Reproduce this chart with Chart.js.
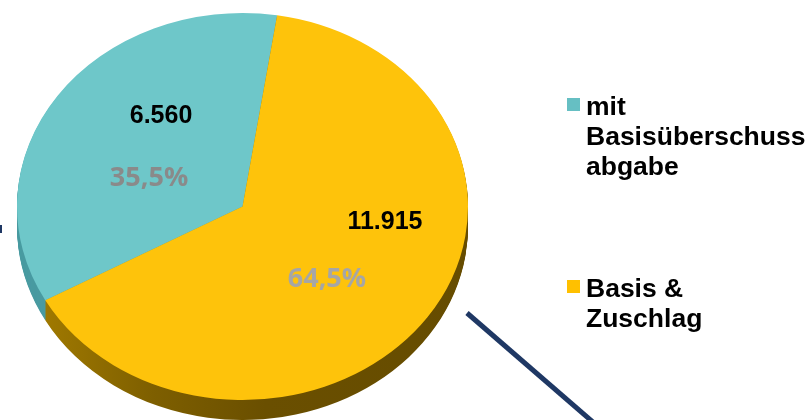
<!DOCTYPE html>
<html>
<head>
<meta charset="utf-8">
<script src="https://cdn.jsdelivr.net/npm/chart.js@4/dist/chart.umd.min.js"></script>
<style>
    html, body { margin: 0; padding: 0; background: #ffffff; }
    #wrap { position: relative; width: 811px; height: 420px; overflow: hidden; }
    #pieChart { position: absolute; left: 0; top: 0; }
    .legend-item { position: absolute; left: 567px; font: bold 26.5px "Liberation Sans", Arial, sans-serif; line-height: 30px; color: #000; }
    .legend-item .box { position: absolute; left: 0; top: 7px; width: 13px; height: 13px; }
    .legend-item .txt { position: absolute; left: 19px; top: 0; white-space: nowrap; }
</style>
</head>
<body>
<div id="wrap">
    <canvas id="pieChart" width="811" height="420"></canvas>
</div>
<script>
// =============================================
//              DATA
// =============================================
const categories = [['mit', 'Basisüberschuss', 'abgabe'], ['Basis &', 'Zuschlag']];
const values = [6560, 11915];
const sliceColors = ['#6ec7c9', '#fec30b'];
const legendColors = ['#66bfc3', '#ffc000'];

// =============================================
//              LAYOUT / STYLE
// =============================================
const DEPTH = 20;                         // thickness of the 3D rim
const legendTops = [91, 273];
// nudges of the value / percent labels from the slice anchor [dx, dy]
const valueShift = [[11, -35], [50, -40]];
const pctShift = [[-1, 27], [-8, 17]];
const pctColors = ['#8a8a8a', '#a6a6a6'];

// German number formatting: 11915 -> "11.915", 35.51 -> "35,5%"
function fmtThousands(v) {
    return String(v).replace(/\B(?=(\d{3})+(?!\d))/g, '.');
}
function fmtPct(v, total) {
    return (v / total * 100).toFixed(1).replace('.', ',') + '%';
}

// ellipse geometry taken from the chart area
function ellipseOf(chart) {
    const a = chart.chartArea;
    return {
        cx: (a.left + a.right) / 2,
        cy: (a.top + a.bottom) / 2,
        rx: (a.right - a.left) / 2,
        ry: (a.bottom - a.top) / 2
    };
}

// =============================================
//              3D TILT PLUGIN
// =============================================
const tiltPlugin = {
    id: 'tilt',
    beforeDatasetsDraw(chart) {
        const ctx = chart.ctx;
        const meta = chart.getDatasetMeta(0);
        const e = ellipseOf(chart);

        // rim: stacked offset copies of each sector, darker colours
        const yellowSide = ctx.createLinearGradient(e.cx - e.rx, 0, e.cx + e.rx, 0);
        yellowSide.addColorStop(0, '#a87f00');
        yellowSide.addColorStop(0.3, '#7e5f00');
        yellowSide.addColorStop(0.55, '#6a4f00');
        yellowSide.addColorStop(1, '#664c00');
        const sideColors = ['#4a9ba1', yellowSide];

        for (let d = DEPTH; d >= 1; d--) {
            meta.data.forEach((arc, i) => {
                const p = arc.getProps(['startAngle', 'endAngle'], true);
                ctx.beginPath();
                ctx.moveTo(e.cx, e.cy + d);
                ctx.ellipse(e.cx, e.cy + d, e.rx, e.ry, 0, p.startAngle, p.endAngle);
                ctx.closePath();
                ctx.fillStyle = sideColors[i];
                ctx.fill();
            });
        }

        // squash the pie face into the ellipse
        const first = meta.data[0].getProps(['x', 'y', 'outerRadius'], true);
        ctx.save();
        ctx.translate(e.cx, e.cy);
        ctx.scale(e.rx / first.outerRadius, e.ry / first.outerRadius);
        ctx.translate(-first.x, -first.y);
    },
    afterDatasetsDraw(chart) {
        const ctx = chart.ctx;
        ctx.restore();

        const meta = chart.getDatasetMeta(0);
        const e = ellipseOf(chart);
        const total = values.reduce((s, v) => s + v, 0);

        ctx.save();
        ctx.textAlign = 'center';
        ctx.textBaseline = 'middle';
        meta.data.forEach((arc, i) => {
            const p = arc.getProps(['startAngle', 'endAngle'], true);
            const mid = (p.startAngle + p.endAngle) / 2;
            const ax = e.cx + Math.cos(mid) * e.rx * 0.5;
            const ay = e.cy + Math.sin(mid) * e.ry * 0.5;

            ctx.font = 'bold 25px "Liberation Sans", Arial, sans-serif';
            ctx.fillStyle = '#000000';
            ctx.fillText(fmtThousands(values[i]), ax + valueShift[i][0], ay + valueShift[i][1]);

            ctx.font = 'bold 27px "Open Sans", sans-serif';
            ctx.fillStyle = pctColors[i];
            ctx.fillText(fmtPct(values[i], total), ax + pctShift[i][0], ay + pctShift[i][1]);
        });

        // connector line leaving the slide on the right, and tick on the left edge
        ctx.strokeStyle = '#1f3864';
        ctx.lineWidth = 5;
        ctx.beginPath();
        ctx.moveTo(467, 313);
        ctx.lineTo(594, 423);
        ctx.stroke();
        ctx.lineWidth = 2;
        ctx.beginPath();
        ctx.moveTo(1, 225);
        ctx.lineTo(1, 233);
        ctx.stroke();
        ctx.restore();
    }
};

// =============================================
//              CHART
// =============================================
new Chart(document.getElementById('pieChart'), {
    type: 'pie',
    data: {
        labels: categories,
        datasets: [{
            data: values,
            backgroundColor: sliceColors,
            borderWidth: 0,
            clip: false
        }]
    },
    options: {
        responsive: false,
        animation: false,
        rotation: 241,
        layout: { padding: { left: 17, right: 343, top: 13, bottom: 20 } },
        plugins: {
            legend: { display: false },
            tooltip: { enabled: false }
        }
    },
    plugins: [tiltPlugin]
});

// =============================================
//              HTML LEGEND
// =============================================
const wrap = document.getElementById('wrap');
categories.forEach((lines, i) => {
    const item = document.createElement('div');
    item.className = 'legend-item';
    item.style.top = legendTops[i] + 'px';
    item.innerHTML = `<span class="box" style="background:${legendColors[i]}"></span>` +
        `<span class="txt">${lines.join('<br>')}</span>`;
    wrap.appendChild(item);
});
</script>
</body>
</html>
